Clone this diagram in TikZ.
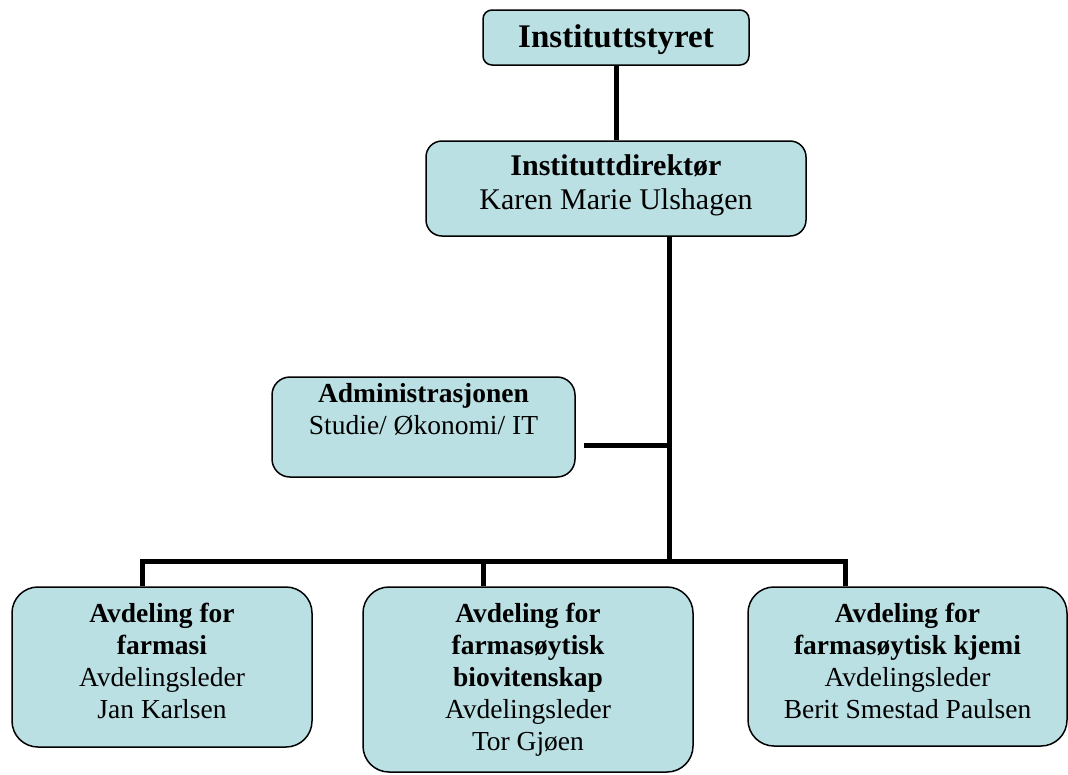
\documentclass[tikz,border=0pt]{standalone}
\usepackage{fontspec}
\setmainfont{Liberation Serif}
\definecolor{boxfill}{RGB}{187,224,227}
\tikzset{
  orgbox/.style={draw=black, line width=1.5pt, fill=boxfill, rounded corners=#1, inner sep=0pt},
  orgbox/.default=18pt,
  orgtext/.style={anchor=north, inner sep=0pt, align=center, font=\fontsize{27.5}{32}\selectfont},
  conn/.style={line width=5pt, draw=black, line join=miter}
}
\begin{document}
\begin{tikzpicture}[x=1pt,y=-1pt]
\useasboundingbox (0,0) rectangle (1068,774);
% boxes
\node[orgbox=9pt, minimum width=266pt, minimum height=55pt] (styre) at (616,37.5) {};
\node[orgbox=16pt, minimum width=380pt, minimum height=95pt] (dir) at (616,188.5) {};
\node[orgbox=18pt, minimum width=303pt, minimum height=100pt] (adm) at (423.5,427) {};
\node[orgbox=26pt, minimum width=300pt, minimum height=160pt] (farm) at (162,667) {};
\node[orgbox=26pt, minimum width=330pt, minimum height=185pt] (bio) at (528,679.5) {};
\node[orgbox=26pt, minimum width=319pt, minimum height=159pt] (kjemi) at (907.5,666.5) {};
% texts
\node[anchor=base, inner sep=0pt, font=\fontsize{33}{38}\selectfont\bfseries] (styretxt) at (616,47) {Instituttstyret};
\node[orgtext, font=\fontsize{30}{34}\selectfont] (dirtxt) at (616,154.5) {\textbf{Instituttdirektør}\\Karen Marie Ulshagen};
\node[orgtext] (admtxt) at (423.5,383) {\textbf{Administrasjonen}\\Studie/ Økonomi/ IT};
\node[orgtext] (farmtxt) at (162,603) {\textbf{Avdeling for}\\\textbf{farmasi}\\Avdelingsleder\\Jan Karlsen};
\node[orgtext] (biotxt) at (528,603) {\textbf{Avdeling for}\\\textbf{farmasøytisk}\\\textbf{biovitenskap}\\Avdelingsleder\\Tor Gjøen};
\node[orgtext] (kjemitxt) at (907.5,603) {\textbf{Avdeling for}\\\textbf{farmasøytisk kjemi}\\Avdelingsleder\\Berit Smestad Paulsen};
% junction coordinates
\coordinate (dirout) at (669,236);
\coordinate (admj) at (669,445);
\coordinate (admend) at (584,445);
\coordinate (busj) at (669,561);
\coordinate (d1) at (142,561);
\coordinate (d2) at (483,561);
\coordinate (d3) at (845,561);
% connectors
\draw[conn] (styre.south) -- (dir.north);
\draw[conn] (dirout) -- (busj);
\draw[conn] (admend) -- (admj);
\draw[conn] (d1 |- farm.north) -- (d1) -- (d3) -- (d3 |- kjemi.north);
\draw[conn] (d2) -- (d2 |- bio.north);
\end{tikzpicture}
\end{document}
